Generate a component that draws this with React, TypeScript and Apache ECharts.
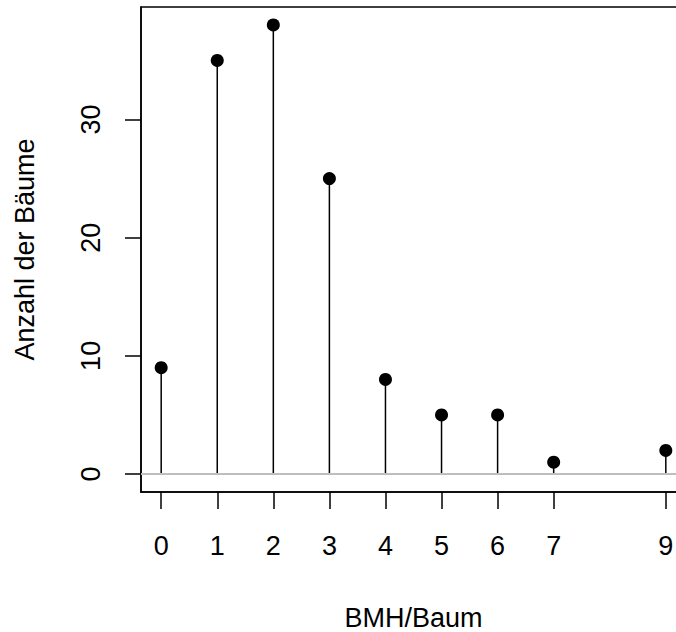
import React, { useEffect, useRef } from "react";
import * as echarts from "echarts";

const xValues = [0, 1, 2, 3, 4, 5, 6, 7, 9];
const counts = [9, 35, 38, 25, 8, 5, 5, 1, 2];
const xTicks = [0, 1, 2, 3, 4, 5, 6, 7, 9];
const yTicks = [0, 10, 20, 30];
const xTitle = "BMH/Baum";
const yTitle = "Anzahl der Bäume";

const FONT = "'Liberation Sans', Arial, sans-serif";

export default function App() {
  const ref = useRef<HTMLDivElement>(null);
  useEffect(() => {
    if (!ref.current) return;
    const chart = echarts.init(ref.current, null, { renderer: "svg" });
    const points = xValues.map((x, i) => [x, counts[i]]);
    chart.setOption({
      animation: false,
      backgroundColor: "#ffffff",
      grid: {
        left: 141,
        top: 7,
        width: 545,
        height: 485,
        outerBoundsMode: "none",
        containLabel: false,
        show: true,
        borderColor: "#000000",
        borderWidth: 1.5,
        backgroundColor: "transparent",
      },
      xAxis: {
        type: "value",
        min: -0.36,
        max: 9.36,
        name: xTitle,
        nameLocation: "middle",
        nameGap: 112,
        nameTextStyle: { fontFamily: FONT, fontSize: 27, color: "#000" },
        axisLine: { show: true, onZero: false, lineStyle: { color: "#000", width: 1.5 } },
        axisTick: { show: true, length: 17, customValues: xTicks, lineStyle: { color: "#000", width: 1.5 } },
        axisLabel: { customValues: xTicks, margin: 40, fontFamily: FONT, fontSize: 27, color: "#000" },
        splitLine: { show: false },
      },
      yAxis: {
        type: "value",
        min: -1.52,
        max: 39.52,
        name: yTitle,
        nameLocation: "middle",
        nameGap: 103,
        nameTextStyle: { fontFamily: FONT, fontSize: 27, color: "#000" },
        axisLine: { show: true, onZero: false, lineStyle: { color: "#000", width: 1.5 } },
        axisTick: { show: true, length: 16, customValues: yTicks, lineStyle: { color: "#000", width: 1.5 } },
        axisLabel: { customValues: yTicks, rotate: 90, margin: 37, fontFamily: FONT, fontSize: 27, color: "#000" },
        splitLine: { show: false },
      },
      series: [
        {
          type: "custom",
          data: points,
          clip: false,
          renderItem: (params: any, api: any) => {
            const p0 = api.coord([api.value(0), 0]);
            const p1 = api.coord([api.value(0), api.value(1)]);
            return {
              type: "line",
              shape: { x1: p0[0], y1: p0[1], x2: p1[0], y2: p1[1] },
              style: { stroke: "#000", lineWidth: 1.5 },
            };
          },
          markLine: {
            silent: true,
            symbol: "none",
            label: { show: false },
            lineStyle: { color: "#bebebe", type: "solid", width: 2 },
            data: [{ yAxis: 0 }],
          },
          z: 2,
        },
        {
          type: "scatter",
          data: points,
          symbol: "circle",
          symbolSize: 13,
          itemStyle: { color: "#000", opacity: 1 },
          z: 3,
        },
      ],
    });
    return () => chart.dispose();
  }, []);
  return (
    <div
      ref={ref}
      style={{ position: "fixed", left: 0, top: 0, width: 676, height: 632, overflow: "hidden", background: "#fff" }}
    />
  );
}
